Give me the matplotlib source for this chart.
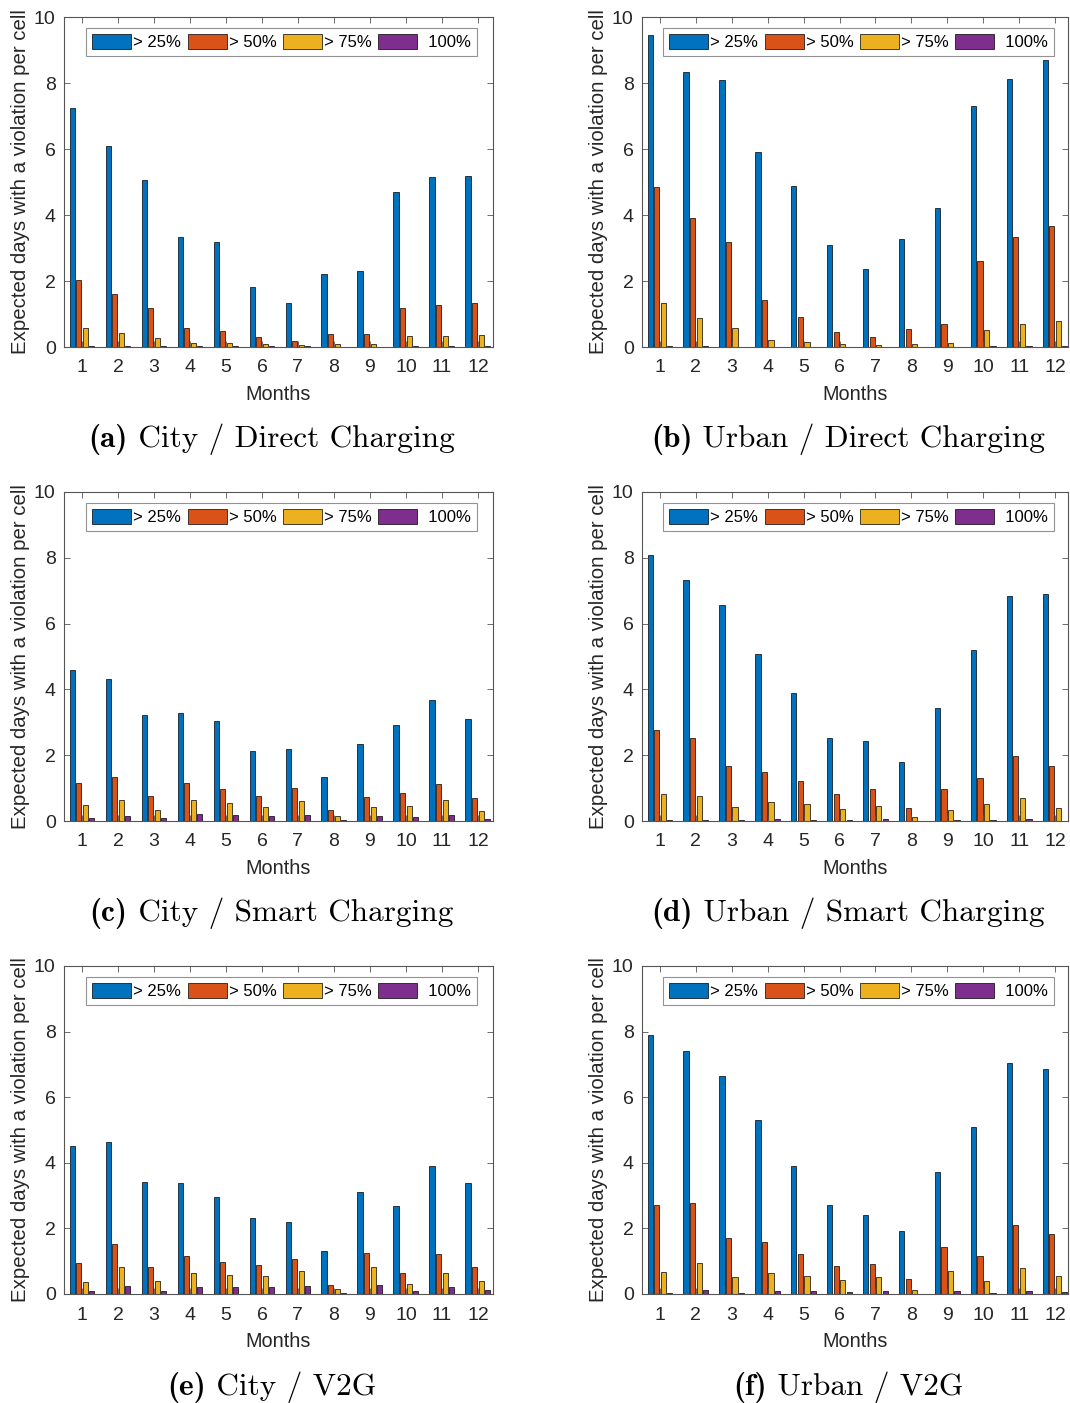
import matplotlib
matplotlib.use("Agg")
import matplotlib.pyplot as plt
import numpy as np

months = list(range(1, 13))
series_labels = ["> 25%", "> 50%", "> 75%", "  100%"]
colors = ["#0072BD", "#D95319", "#EDB120", "#7E2F8E"]

# (a) City / Direct Charging
a_25 = [7.24, 6.10, 5.06, 3.33, 3.17, 1.82, 1.32, 2.20, 2.30, 4.71, 5.14, 5.18]
a_50 = [2.04, 1.62, 1.17, 0.59, 0.49, 0.31, 0.19, 0.39, 0.39, 1.19, 1.28, 1.32]
a_75 = [0.58, 0.42, 0.27, 0.12, 0.12, 0.09, 0.06, 0.09, 0.09, 0.32, 0.33, 0.36]
a_100 = [0.03, 0.02, 0.02, 0.02, 0.02, 0.02, 0.02, 0.01, 0.0, 0.02, 0.02, 0.02]

# (b) Urban / Direct Charging
b_25 = [9.44, 8.34, 8.10, 5.91, 4.89, 3.10, 2.37, 3.26, 4.20, 7.30, 8.11, 8.69]
b_50 = [4.86, 3.92, 3.17, 1.42, 0.91, 0.46, 0.31, 0.55, 0.71, 2.60, 3.33, 3.68]
b_75 = [1.34, 0.87, 0.58, 0.20, 0.14, 0.08, 0.06, 0.08, 0.12, 0.51, 0.69, 0.79]
b_100 = [0.04, 0.02, 0.0, 0.0, 0.0, 0.0, 0.0, 0.0, 0.0, 0.02, 0.02, 0.02]

# (c) City / Smart Charging
c_25 = [4.60, 4.33, 3.23, 3.27, 3.04, 2.13, 2.19, 1.35, 2.35, 2.91, 3.68, 3.09]
c_50 = [1.16, 1.34, 0.75, 1.16, 0.97, 0.75, 1.01, 0.34, 0.73, 0.86, 1.13, 0.69]
c_75 = [0.50, 0.65, 0.33, 0.64, 0.56, 0.44, 0.62, 0.16, 0.44, 0.46, 0.64, 0.31]
c_100 = [0.08, 0.15, 0.08, 0.21, 0.19, 0.14, 0.19, 0.03, 0.16, 0.13, 0.19, 0.07]

# (d) Urban / Smart Charging
d_25 = [8.07, 7.32, 6.57, 5.09, 3.88, 2.53, 2.44, 1.80, 3.44, 5.21, 6.85, 6.91]
d_50 = [2.78, 2.53, 1.66, 1.48, 1.23, 0.82, 0.97, 0.41, 0.97, 1.32, 1.99, 1.66]
d_75 = [0.81, 0.76, 0.43, 0.58, 0.53, 0.36, 0.46, 0.12, 0.33, 0.53, 0.70, 0.41]
d_100 = [0.04, 0.04, 0.02, 0.07, 0.04, 0.02, 0.07, 0.0, 0.02, 0.02, 0.07, 0.0]

# (e) City / V2G
e_25 = [4.50, 4.64, 3.41, 3.37, 2.97, 2.31, 2.19, 1.31, 3.10, 2.68, 3.91, 3.37]
e_50 = [0.93, 1.53, 0.83, 1.16, 0.98, 0.87, 1.08, 0.26, 1.26, 0.63, 1.22, 0.81]
e_75 = [0.38, 0.83, 0.39, 0.63, 0.59, 0.56, 0.71, 0.14, 0.81, 0.32, 0.65, 0.41]
e_100 = [0.08, 0.25, 0.08, 0.20, 0.20, 0.20, 0.25, 0.02, 0.26, 0.08, 0.20, 0.13]

# (f) Urban / V2G
f_25 = [7.91, 7.40, 6.66, 5.32, 3.91, 2.71, 2.42, 1.92, 3.73, 5.08, 7.03, 6.87]
f_50 = [2.72, 2.78, 1.70, 1.59, 1.22, 0.86, 0.91, 0.45, 1.43, 1.15, 2.10, 1.83]
f_75 = [0.67, 0.94, 0.51, 0.63, 0.56, 0.43, 0.53, 0.12, 0.69, 0.39, 0.80, 0.55]
f_100 = [0.04, 0.13, 0.02, 0.10, 0.08, 0.06, 0.10, 0.0, 0.10, 0.04, 0.10, 0.07]

panels = [
    ("(a)", "City / Direct Charging", [a_25, a_50, a_75, a_100]),
    ("(b)", "Urban / Direct Charging", [b_25, b_50, b_75, b_100]),
    ("(c)", "City / Smart Charging", [c_25, c_50, c_75, c_100]),
    ("(d)", "Urban / Smart Charging", [d_25, d_50, d_75, d_100]),
    ("(e)", "City / V2G", [e_25, e_50, e_75, e_100]),
    ("(f)", "Urban / V2G", [f_25, f_50, f_75, f_100]),
]

plt.rcParams["font.family"] = ["Liberation Sans", "DejaVu Sans"]

W, H = 1070, 1403
fig = plt.figure(figsize=(W / 100, H / 100), dpi=100)
renderer = fig.canvas.get_renderer()

# pixel boxes (left, right, top, bottom)
cols = [(64, 493, 12.42), (642, 1068, 12.36)]
rows = [(17, 347, 437), (492, 821, 911), (966, 1294, 1385)]

gw = 4 / 5.5 if 4 / 5.5 < 0.8 else 0.8
bw = gw / 4 * 0.8
offs = [(i - 1.5) * gw / 4 for i in range(4)]

axcol = "#555555"
txtcol = "#262626"
cap_fs = 22.5

for idx, (letter, title, data) in enumerate(panels):
    r, c = divmod(idx, 2)
    l, rr, xmax = cols[c]
    t, b, cy = rows[r]
    ax = fig.add_axes([l / W, 1 - b / H, (rr - l) / W, (b - t) / H])
    x = np.array(months)
    handles = []
    for i, vals in enumerate(data):
        h = ax.bar(x + offs[i], vals, width=bw, color=colors[i],
                   edgecolor="black", linewidth=0.5, label=series_labels[i])
        handles.append(h)
    ax.set_xlim(0.5, xmax)
    ax.set_ylim(0, 10)
    ax.set_xticks(months)
    ax.set_yticks([0, 2, 4, 6, 8, 10])
    ax.tick_params(direction="in", length=4, width=0.6, colors=axcol,
                   labelcolor=txtcol, labelsize=14, top=True, right=True)
    ax.tick_params(axis="x", pad=9)
    ax.tick_params(axis="y", pad=6)
    for s in ax.spines.values():
        s.set_color(axcol)
        s.set_linewidth(0.8)
    ax.set_xlabel("Months", fontsize=14.3, color=txtcol, labelpad=6)
    ax.set_ylabel("Expected days with a violation per cell", fontsize=14.7,
                  color=txtcol, labelpad=3)
    leg_right = (477 - l) / (rr - l) if c == 0 else (1054 - l) / (rr - l)
    leg = ax.legend(handles=handles, loc="upper right", bbox_to_anchor=(leg_right, 0.967),
                    ncol=4, fontsize=12, frameon=True, fancybox=False,
                    edgecolor="#777777", handlelength=2.35, handleheight=1.0,
                    handletextpad=0.12, columnspacing=0.38, borderpad=0.35,
                    borderaxespad=0.0)
    leg.get_frame().set_linewidth(0.8)
    for txt in leg.get_texts():
        txt.set_color("black")

    # caption: bold label + regular title (Computer Modern)
    cx = (l + rr) / 2 - 7
    t1 = fig.text(0, 0, letter, fontsize=cap_fs, family="cmb10", ha="left", va="baseline")
    t2 = fig.text(0, 0, " " + title, fontsize=cap_fs, family="cmr10", ha="left", va="baseline")
    w1 = t1.get_window_extent(renderer).width
    w2 = t2.get_window_extent(renderer).width
    x0 = cx - (w1 + w2) / 2
    ybase = cy + 10
    t1.set_position((x0 / W, 1 - ybase / H))
    t2.set_position(((x0 + w1) / W, 1 - ybase / H))

fig.savefig("out.png", dpi=100)
